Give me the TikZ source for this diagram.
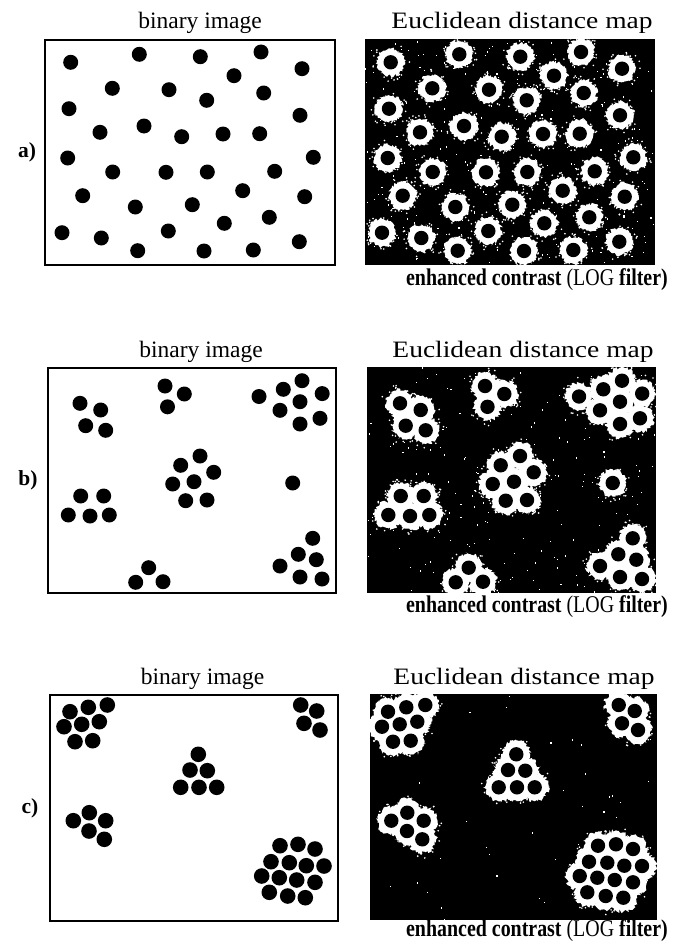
\documentclass[tikz,border=0pt]{standalone}
\usepackage{fontspec}
\usepackage{graphicx}
\setmainfont{Liberation Serif}
\usetikzlibrary{decorations.pathmorphing}
\tikzset{
  binframe/.style={draw=black,line width=1.9pt},
  edmbg/.style={fill=black},
  bdot/.style={fill=black},
  ring/.style={fill=white,decorate,decoration={random steps,segment length=1.4pt,amplitude=1.8pt}},
  hdr/.style={inner sep=0pt,anchor=base,font=\fontsize{23.5}{25}\selectfont},
  sidelbl/.style={inner sep=0pt,font=\fontsize{21.5}{24}\selectfont\bfseries},
  captxt/.style={inner sep=0pt,anchor=base east}
}
\newcommand{\edmtext}{\scalebox{1.17}[1]{Euclidean distance map}}
\newcommand{\captext}{\scalebox{0.83}[1]{\fontsize{24}{26}\selectfont\textbf{enhanced contrast} (LOG \textbf{filter)}}}
\def\dotsA{70.7/62.3, 139.3/54.3, 200.3/56.7, 261/52, 302/68.7, 234/75.7, 112.3/88.3, 169/89.7, 206.7/100.3, 263.7/93, 69/108.7, 300/115.3, 100/132.3, 144/126, 181.7/136.7, 223/134, 259.7/133.7, 67.7/158, 313.3/157.3, 112.7/172, 166/172.3, 207.3/172, 274.7/171.3, 82.7/195.7, 242.7/190.7, 304.7/196.7, 135.3/207, 192.3/204.7, 269.3/217.3, 224.3/223.3, 62/232.7, 101.3/238, 168.3/231, 137.7/250.7, 204/251, 253.3/250, 299.3/241.7}
\def\dotsB{80/403.3, 100.7/410, 85.7/425.7, 105.7/430.3, 165/386, 184.3/394, 167.5/406.8, 259/396.5, 283.3/389.3, 302/380.7, 322.2/393.6, 280/410.3, 300/401.7, 320/418.3, 300/424, 200/456, 180.7/465.3, 213.7/472.3, 172.7/484, 194/481.7, 185.7/500.7, 207/500, 292.7/483, 80.7/496, 103.7/496, 68.3/515, 90/516, 109.3/515, 148.7/567.7, 135.7/582.3, 163/581.7, 312.7/538.3, 298.3/554.3, 316.3/559.7, 280/566, 300/577, 322/579}
\def\dotsC{70/711.7, 88.3/707.3, 107.3/705, 64/726.7, 81.7/724.3, 99.3/721.7, 75/741.7, 92.7/740.7, 300.7/705, 316.7/711, 304/723.3, 320/730, 198.3/754.3, 190/770, 207.3/770.7, 180.7/787.3, 199/787.3, 216.7/787.3, 89.3/812.7, 73.3/820.7, 105.7/820.7, 89/831, 104.3/839.3, 280/845.7, 298/844.3, 315/849, 271/861.7, 289.3/862.7, 306.3/865.7, 324/866, 261.7/876, 279.3/877.7, 296.7/880, 315/882.3, 269.3/892.3, 287.7/896, 305.3/897.7}

% left panel: dots + frame
\newcommand{\binpanel}[6]{%
  \foreach \px/\py in #1 {\fill[bdot] (\px,\py) circle[radius=#6];}
  \draw[binframe] (#2,#3) rectangle (#4,#5);
}
% right panel: black box, speckles, rings, dots
\newcommand{\edmpanel}[9]{%
  \fill[edmbg] (#2,#3) rectangle (#4,#5);
  \begin{scope}
    \clip (#2,#3) rectangle (#4,#5);
    \foreach \i in {1,...,#7} {
      \pgfmathsetmacro\sx{#2+rnd*(#4-#2)}
      \pgfmathsetmacro\sy{#3+rnd*(#5-#3)}
      \fill[white] (\sx,\sy) rectangle ++(1.1,1.3);
    }
    \begin{scope}[xshift=#6pt]
      \foreach \px/\py in #1 {
        \fill[ring] (\px,\py) circle[radius=#9];
        \foreach \k in {1,...,#8} {
          \pgfmathsetmacro\ang{rnd*360}
          \pgfmathsetmacro\rr{12.5+rnd*6.5}
          \pgfmathsetmacro\qx{\px+\rr*cos(\ang)}
          \pgfmathsetmacro\qy{\py+\rr*sin(\ang)}
          \fill[white] (\qx,\qy) circle[radius=0.9pt];
        }
      }
      \foreach \px/\py in #1 {\fill[bdot] (\px,\py) circle[radius=7.2pt];}
    \end{scope}
  \end{scope}
}

\begin{document}
\begin{tikzpicture}[x=1pt,y=-1pt]
\pgfmathsetseed{7}
\useasboundingbox (0,0) rectangle (674,942);
\fill[white] (0,0) rectangle (674,942);

% ---- a
\binpanel{\dotsA}{45}{40}{335}{265}{7.5pt}
\edmpanel{\dotsA}{365}{39}{655}{265}{320}{300}{20}{13.6pt}
\node[hdr] (ha) at (200,29) {binary image};
\node[hdr] (ea) at (522,29) {\edmtext};
\node[sidelbl] (la) at (27,152) {a)};
\node[captxt] (ca) at (668,285) {\captext};

% ---- b
\binpanel{\dotsB}{48}{368}{336}{593}{7.5pt}
\edmpanel{\dotsB}{367}{367}{656}{593}{320}{220}{16}{13.6pt}
\node[hdr] (hb) at (201,357) {binary image};
\node[hdr] (eb) at (523,357) {\edmtext};
\node[sidelbl] (lb) at (28,480) {b)};
\node[captxt] (cb) at (668,612) {\captext};

% ---- c
\binpanel{\dotsC}{50}{695}{338}{921}{7.8pt}
\edmpanel{\dotsC}{370}{694}{657}{920}{318}{40}{10}{13.8pt}
\node[hdr] (hc) at (202.5,684) {binary image};
\node[hdr] (ec) at (524,684) {\edmtext};
\node[sidelbl] (lc) at (30,808) {c)};
\node[captxt] (cc) at (668,936) {\captext};
\end{tikzpicture}
\end{document}
